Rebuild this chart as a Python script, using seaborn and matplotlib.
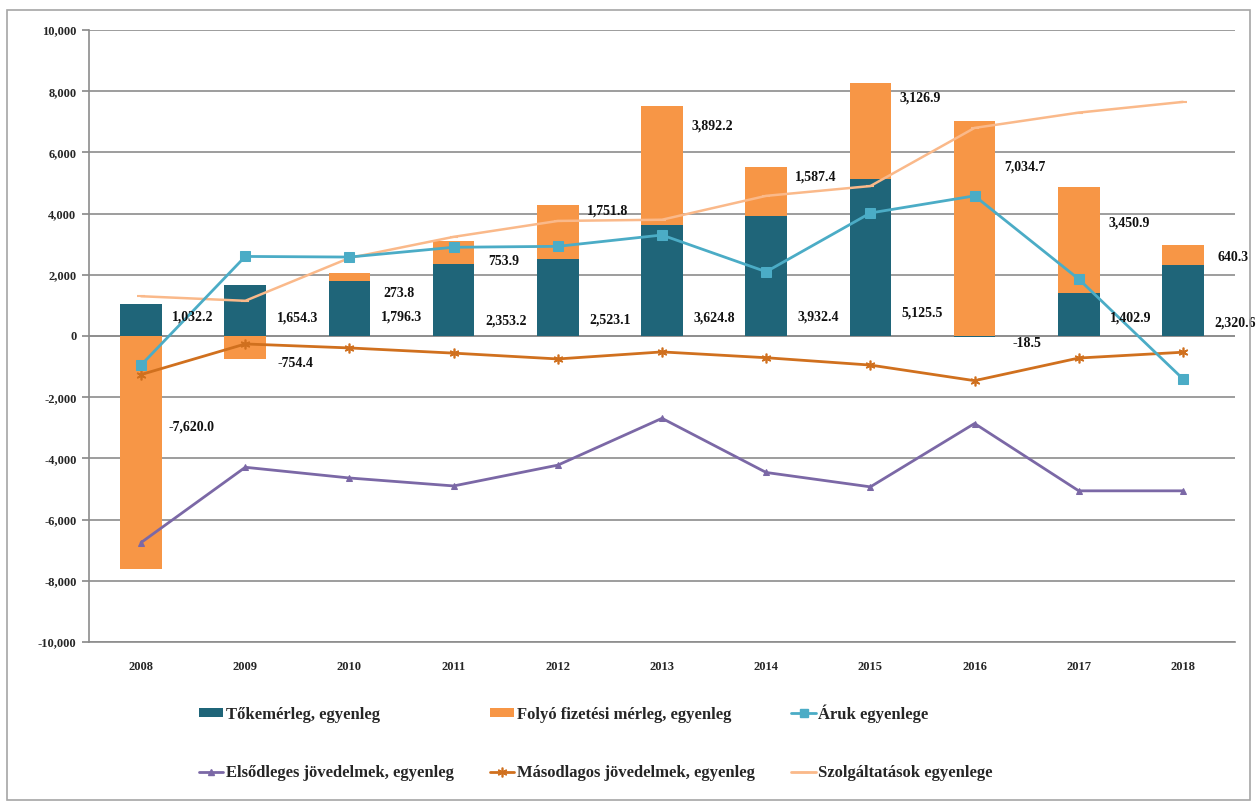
import numpy as np
import pandas as pd
import matplotlib
matplotlib.use("Agg")
import matplotlib.pyplot as plt
import seaborn as sns
from matplotlib.patches import Patch, Rectangle
from matplotlib.lines import Line2D
from matplotlib.ticker import FuncFormatter

# ---- data (million EUR) ----
years = ["2008", "2009", "2010", "2011", "2012", "2013", "2014", "2015", "2016", "2017", "2018"]
capital = [1032.2, 1654.3, 1796.3, 2353.2, 2523.1, 3624.8, 3932.4, 5125.5, -18.5, 1402.9, 2320.6]
current = [-7620.0, -754.4, 273.8, 753.9, 1751.8, 3892.2, 1587.4, 3126.9, 7034.7, 3450.9, 640.3]
goods = [-950, 2600, 2580, 2900, 2930, 3300, 2100, 4020, 4580, 1860, -1400]
primary_income = [-6750, -4290, -4640, -4900, -4220, -2690, -4460, -4930, -2860, -5060, -5060]
secondary_income = [-1260, -260, -390, -560, -750, -520, -710, -950, -1460, -720, -530]
services = [1300, 1150, 2550, 3240, 3760, 3800, 4580, 4900, 6800, 7300, 7650]

series_names = ["Tőkemérleg, egyenleg", "Folyó fizetési mérleg, egyenleg", "Áruk egyenlege",
                "Elsődleges jövedelmek, egyenleg", "Másodlagos jövedelmek, egyenleg",
                "Szolgáltatások egyenlege"]

# vertical placement of the value labels (layout only)
capital_label_y = [620, 600, 620, 490, 520, 580, 620, 750, -260, 590, 430]
current_label_y = [-2970, -915, 1405, 2420, 4090, 6860, 5200, 7780, 5520, 3700, 2580]

# ---- style ----
C_CAP = "#1F6579"
C_CUR = "#F79646"
C_GOODS = "#4BACC6"
C_PRIM = "#7B68A6"
C_SEC = "#D0701E"
C_SERV = "#FAB98A"
GRID = "#8C8C8C"

sns.set_theme(style="white")
plt.rcParams["font.family"] = ["Liberation Serif", "DejaVu Serif"]
plt.rcParams["font.weight"] = "bold"

fig = plt.figure(figsize=(12.56, 8.05), dpi=100)
ax = fig.add_axes([89 / 1256, 1 - 642 / 805, (1235 - 89) / 1256, (642 - 30) / 805])

df = pd.DataFrame({"year": years, "capital": capital, "current": current})
cap = np.array(capital)
cur = np.array(current)
# stacked like a spreadsheet chart: positives stack on positives, negatives on negatives
cur_bottom = np.where(cur >= 0, np.clip(cap, 0, None), np.clip(cap, None, 0))

sns.barplot(data=df, x="year", y="capital", color=C_CAP, saturation=1, width=0.4,
            errorbar=None, ax=ax, zorder=2, linewidth=0, edgecolor="none")
sns.barplot(data=df, x="year", y="current", color=C_CUR, saturation=1, width=0.4,
            errorbar=None, ax=ax, bottom=cur_bottom, zorder=2, linewidth=0, edgecolor="none")

xpos = np.arange(len(years))
sns.lineplot(x=xpos, y=services, color=C_SERV, lw=1.8, marker="_", markersize=6,
             markeredgewidth=1.5, markeredgecolor=C_SERV, ax=ax, zorder=3)
sns.lineplot(x=xpos, y=secondary_income, color=C_SEC, lw=2, marker=(6, 2, 0), markersize=7,
             markeredgewidth=1.2, markeredgecolor=C_SEC, ax=ax, zorder=3)
sns.lineplot(x=xpos, y=primary_income, color=C_PRIM, lw=2, marker="^", markersize=5,
             markeredgecolor=C_PRIM, ax=ax, zorder=3)
sns.lineplot(x=xpos, y=goods, color=C_GOODS, lw=2, marker="s", markersize=7,
             markeredgecolor=C_GOODS, ax=ax, zorder=4)

# value labels to the right of each bar
fmt = lambda v: f"{v:,.1f}"
for i in range(len(years)):
    ax.text(i + 0.5, capital_label_y[i], fmt(capital[i]), ha="center", va="center",
            fontsize=10, fontweight="bold", color="#111111", zorder=5)
    ax.text(i + 0.48, current_label_y[i], fmt(current[i]), ha="center", va="center",
            fontsize=10, fontweight="bold", color="#111111", zorder=5)

# axes
ax.set_xlim(-0.5, len(years) - 0.5)
ax.set_ylim(-10000, 10000)
ax.set_yticks(np.arange(-10000, 10001, 2000))
ax.yaxis.set_major_formatter(FuncFormatter(lambda v, p: f"{v:,.0f}"))
ax.grid(axis="y", color=GRID, lw=1.2, zorder=0)
ax.set_axisbelow(True)
ax.axhline(0, color=GRID, lw=1.2, zorder=1)
ax.set_xlabel("")
ax.set_ylabel("")
for s in ["top", "right"]:
    ax.spines[s].set_visible(False)
ax.spines["left"].set_color(GRID)
ax.spines["bottom"].set_color(GRID)
ax.spines["left"].set_linewidth(1.2)
ax.spines["bottom"].set_linewidth(1.2)
ax.tick_params(axis="y", left=True, length=5, color=GRID, labelsize=9, pad=4)
ax.tick_params(axis="x", bottom=False, labelsize=9, pad=8)
for lbl in ax.get_xticklabels() + ax.get_yticklabels():
    lbl.set_fontweight("bold")

# legend in two rows of three
handles = [
    Patch(facecolor=C_CAP, edgecolor="none"),
    Line2D([], [], color=C_PRIM, lw=2, marker="^", markersize=5),
    Patch(facecolor=C_CUR, edgecolor="none"),
    Line2D([], [], color=C_SEC, lw=2, marker=(6, 2, 0), markersize=7, markeredgewidth=1.2),
    Line2D([], [], color=C_GOODS, lw=2, marker="s", markersize=6),
    Line2D([], [], color=C_SERV, lw=2, marker="_", markersize=6),
]
labels = [series_names[0], series_names[3], series_names[1], series_names[4],
          series_names[2], series_names[5]]
fig.legend(handles, labels, ncol=3, loc="upper left", bbox_to_anchor=(199 / 1256, 1 - 704 / 805),
           frameon=False, prop={"family": ["Liberation Serif"], "weight": "bold", "size": 12},
           handlelength=1.45, handleheight=0.45, handletextpad=0.15, columnspacing=2.2,
           labelspacing=2.55, borderaxespad=0, borderpad=0)

# outer chart border
fig.patches.append(Rectangle((7 / 1256, 5 / 805), 1243 / 1256, 790 / 805,
                             transform=fig.transFigure, fill=False, edgecolor="#A6A6A6", lw=1.2))

fig.savefig("out.png", dpi=100, facecolor="white")
